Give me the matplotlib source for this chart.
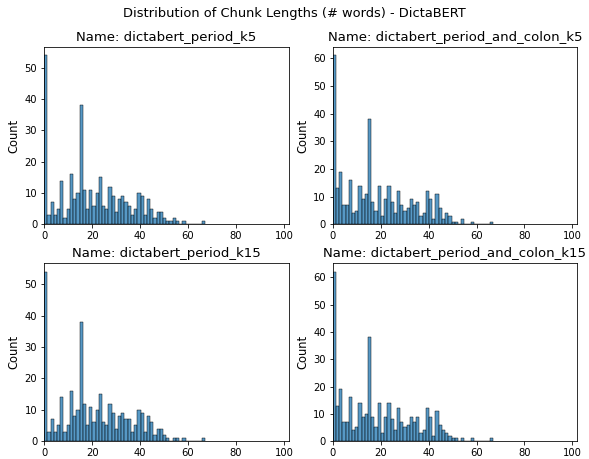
import numpy as np
import pandas as pd
import matplotlib
matplotlib.use("Agg")
import matplotlib.pyplot as plt
import seaborn as sns

# chunk length histogram counts (50 bins between min 0 and max 67 words)
names = [
    "dictabert_period_k5",
    "dictabert_period_and_colon_k5",
    "dictabert_period_k15",
    "dictabert_period_and_colon_k15",
]
min_len = 0
max_len = 67
n_bins = 50

counts_period_k5 = [54, 3, 7, 3, 5, 14, 2, 5, 16, 8, 10, 38, 11, 5, 11, 6, 10, 15, 6, 5,
                    12, 9, 4, 8, 9, 7, 6, 3, 5, 10, 9, 3, 8, 5, 2, 4, 4, 2, 1, 1,
                    2, 1, 0, 1, 0, 0, 0, 0, 0, 1]
counts_colon_k5 = [61, 13, 19, 7, 7, 16, 4, 5, 14, 9, 11, 38, 8, 5, 14, 3, 9, 14, 8, 4,
                   12, 7, 5, 6, 9, 7, 8, 3, 4, 12, 9, 2, 11, 6, 2, 4, 3, 1, 1, 0,
                   2, 0, 0, 1, 0, 0, 0, 0, 0, 1]
counts_period_k15 = [54, 3, 7, 3, 5, 14, 3, 5, 16, 8, 10, 38, 12, 5, 11, 6, 10, 15, 6, 5,
                     12, 9, 4, 8, 9, 7, 7, 3, 5, 10, 9, 3, 8, 6, 2, 4, 4, 2, 1, 0,
                     1, 1, 0, 1, 0, 0, 0, 0, 0, 1]
counts_colon_k15 = [62, 13, 19, 7, 7, 16, 4, 5, 14, 9, 10, 38, 9, 5, 14, 3, 9, 14, 8, 4,
                    12, 7, 5, 6, 9, 7, 9, 3, 4, 12, 9, 2, 11, 6, 4, 3, 2, 1, 1, 0,
                    1, 0, 0, 1, 0, 0, 0, 0, 0, 1]
all_counts = [counts_period_k5, counts_colon_k5, counts_period_k15, counts_colon_k15]

edges = np.linspace(min_len, max_len, n_bins + 1)
mids = (edges[:-1] + edges[1:]) / 2

fig, axes = plt.subplots(2, 2, figsize=(589 / 72, 459 / 72), dpi=72)
fig.subplots_adjust(left=0.075, right=0.98, top=0.898, bottom=0.039, wspace=0.18, hspace=0.22)
fig.suptitle("Distribution of Chunk Lengths (# words) - DictaBERT", fontsize=13, y=0.985)

for ax, name, counts in zip(axes.flat, names, all_counts):
    df = pd.DataFrame({"length": mids, "n": counts})
    sns.histplot(data=df, x="length", weights="n", bins=n_bins,
                 binrange=(min_len, max_len), ax=ax)
    ax.set_title(f"Name: {name}", fontsize=13.3)
    ax.set_xlim(0, 102)
    ax.set_xlabel("")
    ax.set_ylabel("Count", fontsize=11.5)
    ax.set_xticks([0, 20, 40, 60, 80, 100])

fig.savefig("out.png", dpi=72)
